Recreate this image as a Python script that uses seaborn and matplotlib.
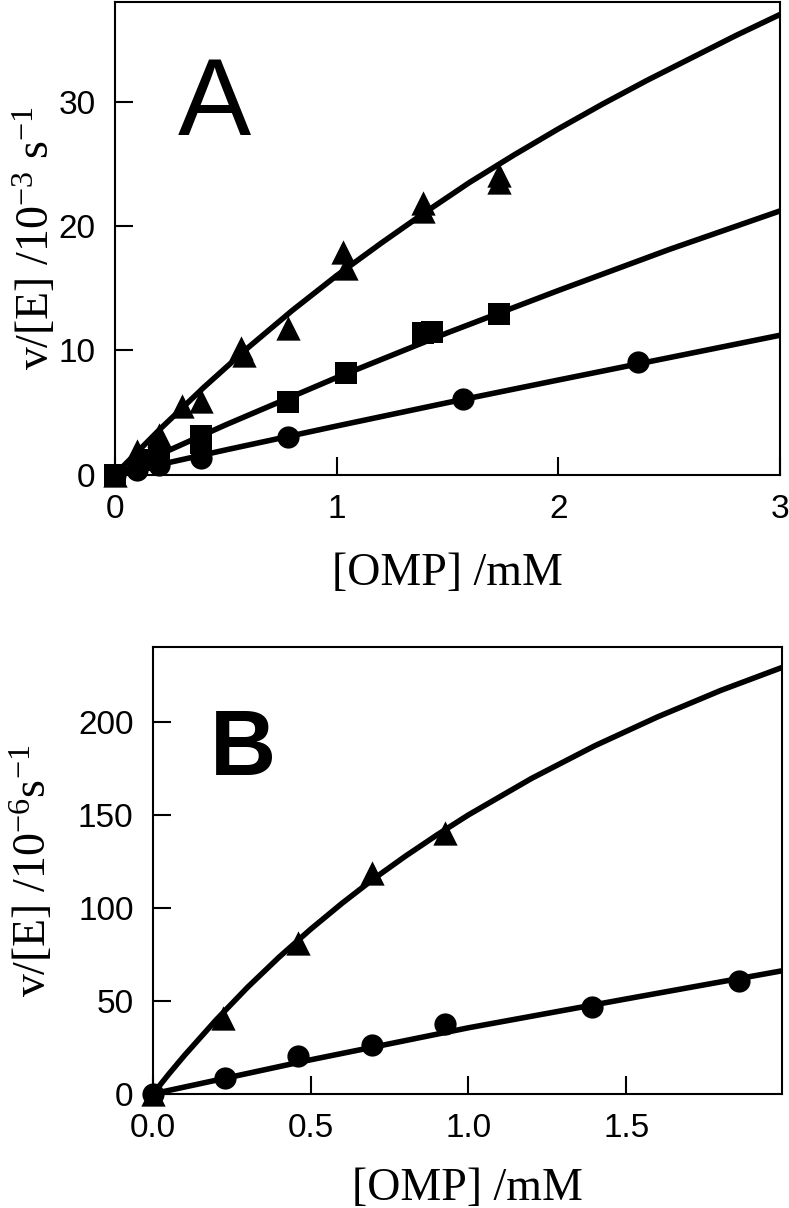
#!/usr/bin/env python3

import matplotlib
matplotlib.use("Agg")
import matplotlib.pyplot as plt
import seaborn as sns

sns.set_theme(style="ticks")
plt.rcParams['font.family'] = ['Liberation Sans', 'DejaVu Sans']
plt.rcParams['text.color'] = 'black'
plt.rcParams['axes.labelcolor'] = 'black'
plt.rcParams['mathtext.fontset'] = 'custom'
plt.rcParams['mathtext.rm'] = 'Liberation Serif'
plt.rcParams['mathtext.it'] = 'Liberation Serif:italic'


# ---- panel A: v/[E] (10^-3 s^-1) vs [OMP] (mM) ----
a_tri_x = [0.0, 0.10, 0.20, 0.30, 0.39, 0.57, 0.58, 0.78, 1.03, 1.04, 1.39, 1.39, 1.73, 1.73]
a_tri_y = [0.0, 1.9, 3.2, 5.5, 5.9, 10.2, 9.6, 11.8, 17.9, 16.6, 21.8, 21.2, 24.1, 23.5]
a_sq_x = [0.0, 0.15, 0.20, 0.39, 0.39, 0.78, 1.04, 1.39, 1.43, 1.73]
a_sq_y = [0.0, 1.2, 1.6, 3.1, 2.5, 5.8, 8.2, 11.4, 11.5, 12.9]
a_cir_x = [0.0, 0.10, 0.20, 0.39, 0.78, 1.57, 2.36]
a_cir_y = [0.0, 0.4, 0.8, 1.3, 3.05, 6.05, 9.05]

# fitted curves
a_tri_fit_x = [0, 0.1, 0.2, 0.4, 0.6, 0.8, 1.0, 1.2, 1.4, 1.6, 1.8, 2.0, 2.2, 2.4, 2.6, 2.8, 3.0]
a_tri_fit_y = [0, 1.8, 3.6, 7.0, 10.2, 13.2, 16.0, 18.6, 21.1, 23.5, 25.7, 27.8, 29.8, 31.7, 33.5, 35.3, 37.0]
a_sq_fit_x = [0, 0.5, 1.0, 1.5, 2.0, 2.5, 3.0]
a_sq_fit_y = [0, 4.0, 7.8, 11.4, 14.8, 18.1, 21.2]
a_cir_fit_x = [0, 0.5, 1.0, 1.5, 2.0, 2.5, 3.0]
a_cir_fit_y = [0, 1.98, 3.9, 5.78, 7.6, 9.4, 11.2]

# ---- panel B: v/[E] (10^-6 s^-1) vs [OMP] (mM) ----
b_tri_x = [0.0, 0.223, 0.461, 0.693, 0.926]
b_tri_y = [0.0, 40.8, 81.1, 118.7, 140.2]
b_cir_x = [0.0, 0.228, 0.461, 0.693, 0.926, 1.391, 1.859]
b_cir_y = [0.0, 8.6, 20.2, 26.5, 37.8, 46.5, 60.5]

b_tri_fit_x = [0, 0.05, 0.1, 0.2, 0.3, 0.4, 0.5, 0.6, 0.7, 0.8, 0.9, 1.0, 1.2, 1.4, 1.6, 1.8, 2.0]
b_tri_fit_y = [0, 10.6, 20.7, 39.7, 57.3, 73.5, 88.5, 102.5, 115.6, 127.7, 139.1, 149.9,
               169.5, 187.0, 202.6, 216.8, 229.5]
b_cir_fit_x = [0, 0.5, 1.0, 1.5, 2.0]
b_cir_fit_y = [0, 18.3, 35.5, 51.0, 66.3]

SERIF = ['Liberation Serif', 'DejaVu Serif']
LW = 4.0


def style_axes(ax):
    for sp in ax.spines.values():
        sp.set_visible(True)
        sp.set_linewidth(1.5)
        sp.set_color('black')
    ax.tick_params(axis='both', which='both', direction='in', length=13, width=1.5,
                   pad=14, labelsize=24, colors='black', labelcolor='black',
                   top=False, right=False)
    ax.set_facecolor('white')
    ax.grid(False)


def curve(ax, x, y):
    sns.lineplot(x=x, y=y, ax=ax, color='black', lw=LW, estimator=None, sort=False,
                 zorder=2)


def points(ax, x, y, marker, ms):
    sns.scatterplot(x=x, y=y, ax=ax, marker=marker, s=ms ** 2, color='black',
                    linewidth=0, clip_on=False, zorder=3)


fig = plt.figure(figsize=(7.89, 12.08), dpi=100)
fig.patch.set_facecolor('white')

ax_a = fig.add_axes([0.1458, 0.6072, 0.8428, 0.3911])
curve(ax_a, a_tri_fit_x, a_tri_fit_y)
curve(ax_a, a_sq_fit_x, a_sq_fit_y)
curve(ax_a, a_cir_fit_x, a_cir_fit_y)
points(ax_a, a_tri_x, a_tri_y, '^', 17.5)
points(ax_a, a_cir_x, a_cir_y, 'o', 16)
points(ax_a, a_sq_x, a_sq_y, 's', 16.5)
ax_a.set_xlim(0, 3)
ax_a.set_ylim(0, 38)
ax_a.set_xticks([0, 1, 2, 3])
ax_a.set_yticks([0, 10, 20, 30])
style_axes(ax_a)
ax_a.set_xlabel('[OMP] /mM', fontsize=33, family=SERIF, labelpad=20)
ax_a.set_ylabel(r'v/[E] /10$^{-3}$ s$^{-1}$', fontsize=33, family=SERIF)
ax_a.yaxis.set_label_coords(-0.085, 0.5)
ax_a.text(0.094, 0.7185, 'A', transform=ax_a.transAxes, fontsize=79,
          color='black', ha='left', va='baseline')

ax_b = fig.add_axes([0.1939, 0.0945, 0.7968, 0.3697])
curve(ax_b, b_tri_fit_x, b_tri_fit_y)
curve(ax_b, b_cir_fit_x, b_cir_fit_y)
points(ax_b, b_tri_x, b_tri_y, '^', 17.5)
points(ax_b, b_cir_x, b_cir_y, 'o', 16)
ax_b.set_xlim(0, 1.993)
ax_b.set_ylim(0, 240)
ax_b.set_xticks([0, 0.5, 1.0, 1.5])
ax_b.set_xticklabels(['0.0', '0.5', '1.0', '1.5'])
ax_b.set_yticks([0, 50, 100, 150, 200])
style_axes(ax_b)
ax_b.set_xlabel('[OMP] /mM', fontsize=33, family=SERIF, labelpad=17)
ax_b.set_ylabel(r'v/[E] /10$^{-6}$s$^{-1}$', fontsize=33, family=SERIF)
ax_b.yaxis.set_label_coords(-0.155, 0.5)
ax_b.text(0.09, 0.7143, 'B', transform=ax_b.transAxes, fontsize=66,
          color='black', fontweight='bold', ha='left', va='baseline')

fig.savefig('out.png', dpi=100, facecolor='white')
plt.close(fig)
